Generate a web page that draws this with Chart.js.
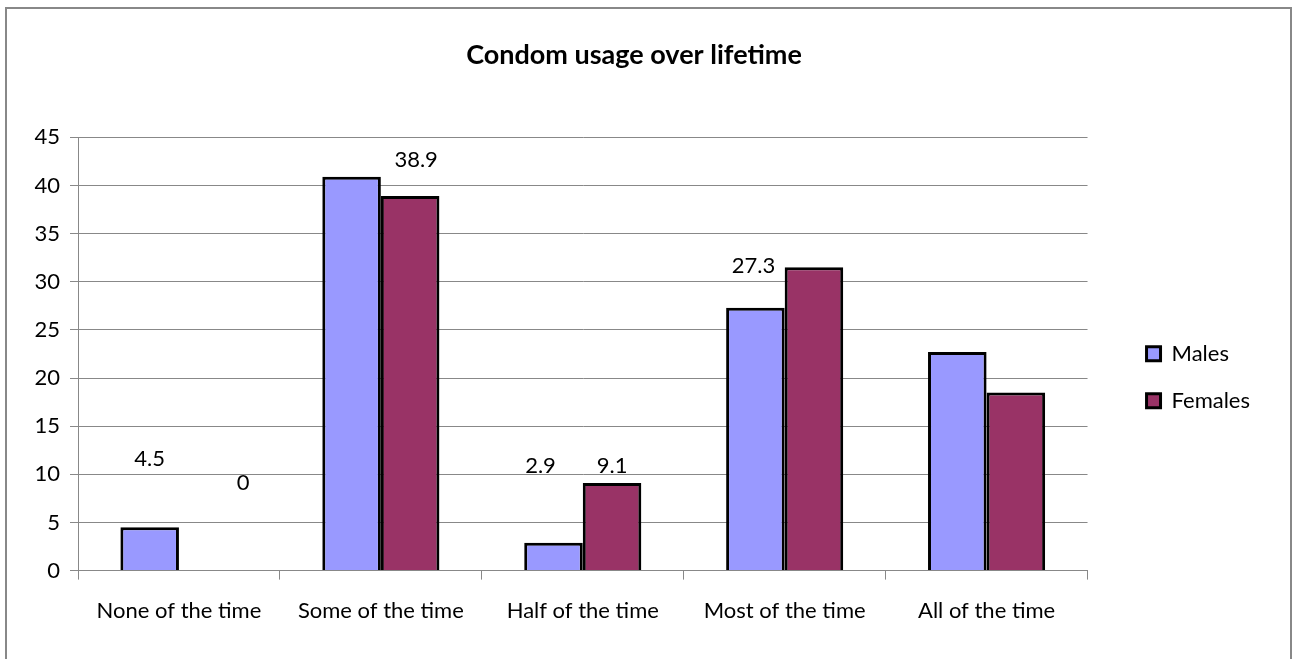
<!DOCTYPE html>
<html>
<head>
<meta charset="utf-8">
<script src="https://cdn.jsdelivr.net/npm/chart.js@4"></script>
<style>
  body { margin: 0; background: #fff; }
</style>
</head>
<body>
<canvas id="myChart" width="1294" height="659"></canvas>
<script>
var categories = ['None of the time', 'Some of the time', 'Half of the time', 'Most of the time', 'All of the time'];
var males = [4.5, 40.9, 2.9, 27.3, 22.7];
var females = [0, 38.9, 9.1, 31.5, 18.5];
// only some bars carry a value label in the original
var maleLabels = ['4.5', null, '2.9', '27.3', null];
var femaleLabels = ['0', '38.9', '9.1', null, null];
var yTicks = [0, 5, 10, 15, 20, 25, 30, 35, 40, 45];

var FONT = 'Lato, "Open Sans", sans-serif';

// pixel nudges for the value labels, same as in the source picture
var labelNudge = [
    [[0, -68], null, [-13, -77], [-2, -42], null],
    [[35, -88], [6, -36], [0, -17], null, null]
];

var valueLabels = {
    id: 'valueLabels',
    afterDatasetsDraw: function (chart) {
        var c = chart.ctx;
        var texts = [maleLabels, femaleLabels];
        c.save();
        c.font = '22px ' + FONT;
        c.fillStyle = '#000';
        c.textAlign = 'center';
        c.textBaseline = 'middle';
        texts.forEach(function (list, d) {
            var meta = chart.getDatasetMeta(d);
            list.forEach(function (t, i) {
                if (t === null) return;
                var bar = meta.data[i];
                var n = labelNudge[d][i] || [0, -12];
                c.fillText(t, bar.x + n[0], bar.y + n[1]);
            });
        });
        c.restore();
    }
};

var frame = {
    id: 'frame',
    beforeDraw: function (chart) {
        var c = chart.ctx;
        c.save();
        c.fillStyle = '#fff';
        c.fillRect(0, 0, chart.width, chart.height);
        c.strokeStyle = '#888';
        c.lineWidth = 2;
        c.strokeRect(6, 8, chart.width - 9, chart.height + 20);
        c.restore();
    }
};

var ctx = document.getElementById('myChart').getContext('2d');

var chart = new Chart(ctx, {
    type: 'bar',
    data: {
        labels: categories,
        datasets: [{
            label: 'Males',
            data: males,
            backgroundColor: '#9999FF',
            borderColor: '#000',
            borderWidth: 3,
            borderSkipped: 'bottom'
        }, {
            label: 'Females',
            data: females,
            backgroundColor: '#993366',
            borderColor: '#000',
            borderWidth: 3,
            borderSkipped: 'bottom'
        }]
    },
    plugins: [frame, valueLabels],
    options: {
        responsive: false,
        animation: false,
        layout: { padding: { left: 8, right: 34, top: 0, bottom: 17 } },
        datasets: {
            bar: { categoryPercentage: 0.58, barPercentage: 1 }
        },
        plugins: {
            title: {
                display: true,
                text: 'Condom usage over lifetime',
                color: '#000',
                font: { family: FONT, size: 27, weight: 'bold' },
                padding: { top: 39, bottom: 66 }
            },
            legend: {
                position: 'right',
                title: {
                    display: true,
                    text: ' ',
                    font: { size: 12 },
                    padding: { top: 49, bottom: 49 }
                },
                labels: {
                    color: '#000',
                    font: { family: FONT, size: 22 },
                    boxWidth: 14,
                    boxHeight: 14,
                    padding: 25
                }
            },
            tooltip: { enabled: false }
        },
        scales: {
            x: {
                grid: {
                    drawOnChartArea: false,
                    color: '#888',
                    tickLength: 9,
                    offset: true
                },
                border: { color: '#888' },
                ticks: {
                    color: '#000',
                    font: { family: FONT, size: 22 },
                    padding: 18,
                    maxRotation: 0
                }
            },
            y: {
                min: 0,
                max: 45,
                afterBuildTicks: function (scale) {
                    scale.ticks = yTicks.map(function (v) { return { value: v }; });
                },
                afterFit: function (scale) { scale.width = 70; },
                grid: { color: '#888', tickLength: 8 },
                border: { color: '#888' },
                ticks: {
                    color: '#000',
                    font: { family: FONT, size: 22 },
                    padding: 10
                }
            },
            // empty strip between the plot and the legend
            gap: {
                type: 'linear',
                position: 'right',
                display: true,
                grid: { display: false },
                border: { display: false },
                ticks: { display: false },
                afterFit: function (scale) { scale.width = 34; }
            }
        }
    }
});
</script>
</body>
</html>
